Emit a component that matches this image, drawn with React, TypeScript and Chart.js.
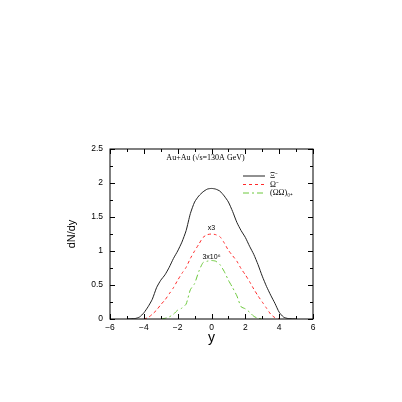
import React, { useEffect, useRef } from "react";
import { Chart, registerables } from "chart.js";

Chart.register(...registerables);

const rapidity = [
  -5, -4.75, -4.5, -4.25, -4, -3.75, -3.5, -3.25, -3, -2.75, -2.5, -2.25, -2, -1.75, -1.5, -1.25, -1, -0.75, -0.5, -0.25,
  0, 0.25, 0.5, 0.75, 1, 1.25, 1.5, 1.75, 2, 2.25, 2.5, 2.75, 3, 3.25, 3.5, 3.75, 4, 4.25, 4.5, 4.75, 5,
];
const xiMinus = [
  0, 0.003, 0.008, 0.03, 0.09, 0.18, 0.29, 0.46, 0.57, 0.65, 0.76, 0.89, 1.0, 1.13, 1.3, 1.55, 1.72, 1.81, 1.87, 1.91,
  1.92, 1.91, 1.88, 1.81, 1.72, 1.58, 1.42, 1.3, 1.2, 1.07, 0.95, 0.8, 0.63, 0.48, 0.35, 0.23, 0.1, 0.03, 0.008, 0.003, 0,
];
const omegaMinusX3 = [
  null, null, null, null, 0, 0.02, 0.07, 0.13, 0.21, 0.28, 0.37, 0.46, 0.57, 0.67, 0.76, 0.89, 1.0, 1.1, 1.2, 1.24,
  1.25, 1.24, 1.21, 1.12, 1.01, 0.93, 0.85, 0.74, 0.65, 0.55, 0.44, 0.34, 0.25, 0.16, 0.07, 0.02, 0, null, null, null, null,
];
const dibaryonScaled = [
  null, null, null, null, null, null, null, null, 0, 0.01, 0.03, 0.07, 0.13, 0.16, 0.22, 0.43, 0.52, 0.7, 0.83, 0.85,
  0.86, 0.85, 0.8, 0.7, 0.57, 0.46, 0.34, 0.18, 0.15, 0.1, 0.04, 0.01, 0, null, null, null, null, null, null, null, null,
];
const seriesLabels = ["Ξ⁻", "Ω⁻", "(ΩΩ)₀₊"];
const seriesColors = ["#222222", "#ff2a2a", "#6cc83c"];
const seriesDashes: number[][] = [[], [3, 3], [6, 3, 2, 3]];
const xTicks = [-6, -4, -2, 0, 2, 4, 6];
const yTicks = [0, 0.5, 1, 1.5, 2, 2.5];
const titleText = "Au+Au (√s=130A GeV)";
const annotations = [
  { x: 0, y: 1.33, text: "x3" },
  { x: 0, y: 0.91, text: "3x10⁶" },
];

const toPoints = (ys: (number | null)[]) => rapidity.map((x, i) => ({ x, y: ys[i] }));

const decorPlugin = {
  id: "decor",
  afterDatasetsDraw(chart: any) {
    const { ctx, chartArea: a, scales } = chart;
    const xs = scales.x;
    const ys = scales.y;
    ctx.save();
    ctx.strokeStyle = "#000";
    ctx.lineWidth = 1;
    ctx.strokeRect(a.left, a.top, a.right - a.left, a.bottom - a.top);
    ctx.beginPath();
    for (let v = -6; v <= 6; v += 1) {
      const px = Math.round(xs.getPixelForValue(v)) + 0.5;
      const len = v % 2 === 0 ? 5 : 3;
      ctx.moveTo(px, a.bottom);
      ctx.lineTo(px, a.bottom - len);
      ctx.moveTo(px, a.top);
      ctx.lineTo(px, a.top + len);
    }
    for (let k = 0; k <= 10; k++) {
      const v = k * 0.25;
      const py = Math.round(ys.getPixelForValue(v)) + 0.5;
      const len = k % 2 === 0 ? 5 : 3;
      ctx.moveTo(a.left, py);
      ctx.lineTo(a.left + len, py);
      ctx.moveTo(a.right, py);
      ctx.lineTo(a.right - len, py);
    }
    ctx.stroke();

    ctx.fillStyle = "#000";
    ctx.font = "8px 'Liberation Serif'";
    ctx.textAlign = "center";
    ctx.textBaseline = "middle";
    ctx.fillText(titleText, (a.left + a.right) / 2 - 6, a.top + 9);

    ctx.font = "7px 'Liberation Sans'";
    annotations.forEach((an) => {
      ctx.fillText(an.text, xs.getPixelForValue(an.x), ys.getPixelForValue(an.y));
    });

    const lx0 = a.left + 133;
    const lx1 = a.left + 155;
    seriesLabels.forEach((lab, i) => {
      const y = a.top + 27 + i * 8.5;
      ctx.beginPath();
      ctx.strokeStyle = seriesColors[i];
      ctx.lineWidth = 1;
      ctx.setLineDash(seriesDashes[i]);
      ctx.moveTo(lx0, y);
      ctx.lineTo(lx1, y);
      ctx.stroke();
      ctx.setLineDash([]);
      ctx.fillStyle = "#000";
      ctx.font = "8px 'Liberation Serif'";
      ctx.textAlign = "left";
      ctx.fillText(lab, lx1 + 5, y);
    });
    ctx.restore();
  },
};

export default function App() {
  const ref = useRef<HTMLCanvasElement>(null);
  useEffect(() => {
    if (!ref.current) return;
    const chart = new Chart(ref.current, {
      type: "line",
      data: {
        datasets: [xiMinus, omegaMinusX3, dibaryonScaled].map((ys, i) => ({
          label: seriesLabels[i],
          data: toPoints(ys),
          borderColor: seriesColors[i],
          borderDash: seriesDashes[i],
          borderWidth: 1,
          pointRadius: 0,
          fill: false,
          tension: 0.2,
          spanGaps: false,
        })),
      },
      plugins: [decorPlugin],
      options: {
        animation: false,
        responsive: false,
        maintainAspectRatio: false,
        layout: { padding: { top: 149, right: 89, left: 0, bottom: 0 } },
        plugins: { legend: { display: false }, tooltip: { enabled: false }, title: { display: false } },
        scales: {
          x: {
            type: "linear",
            min: -6,
            max: 6,
            afterFit: (s: any) => {
              s.height = 83;
            },
            afterBuildTicks: (s: any) => {
              s.ticks = xTicks.map((v) => ({ value: v }));
            },
            grid: { display: false, drawTicks: false },
            border: { display: false },
            ticks: {
              color: "#000",
              font: { family: "'Liberation Sans'", size: 8.5 },
              padding: 4,
              maxRotation: 0,
              callback: (v: any) => (Number(v) < 0 ? "−" + Math.abs(Number(v)) : String(v)),
            },
            title: {
              display: true,
              text: "y",
              color: "#000",
              font: { family: "'Liberation Sans'", size: 14 },
              padding: { top: 0, bottom: 55 },
            },
          },
          y: {
            type: "linear",
            min: 0,
            max: 2.5,
            afterFit: (s: any) => {
              s.width = 110;
            },
            afterBuildTicks: (s: any) => {
              s.ticks = yTicks.map((v) => ({ value: v }));
            },
            grid: { display: false, drawTicks: false },
            border: { display: false },
            ticks: {
              color: "#000",
              font: { family: "'Liberation Sans'", size: 8.5 },
              padding: 7,
              callback: (v: any) => String(v),
            },
            title: {
              display: true,
              text: "dN/dy",
              color: "#000",
              font: { family: "'Liberation Sans'", size: 11 },
              padding: { top: 65, bottom: 0 },
            },
          },
        },
      },
    });
    return () => chart.destroy();
  }, []);
  return (
    <div style={{ position: "fixed", left: 0, top: 0, width: 402, height: 402, background: "#fff" }}>
      <canvas ref={ref} width={402} height={402} style={{ width: 402, height: 402 }} />
    </div>
  );
}
